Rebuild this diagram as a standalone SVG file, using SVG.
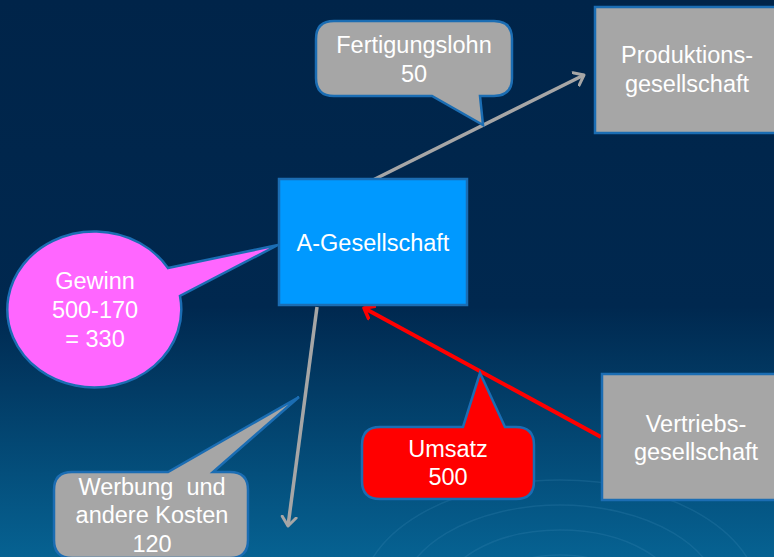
<svg xmlns="http://www.w3.org/2000/svg" width="774" height="557" viewBox="0 0 774 557">
<defs>
<linearGradient id="bg" x1="0" y1="0" x2="0" y2="1">
<stop offset="0" stop-color="#002449"/>
<stop offset="0.55" stop-color="#00284f"/>
<stop offset="1" stop-color="#066292"/>
</linearGradient>
<marker id="ag" markerWidth="20" markerHeight="20" refX="10" refY="10" orient="auto" markerUnits="userSpaceOnUse" viewBox="0 0 20 20">
<polyline points="1,3 10,10 1,17" fill="none" stroke="#a6a6a6" stroke-width="3" stroke-linecap="round" stroke-linejoin="round"/>
</marker>
<marker id="ar" markerWidth="20" markerHeight="20" refX="10" refY="10" orient="auto" markerUnits="userSpaceOnUse" viewBox="0 0 20 20">
<polyline points="1,3 10,10 1,17" fill="none" stroke="#ff0000" stroke-width="3.5" stroke-linecap="round" stroke-linejoin="round"/>
</marker>
</defs>
<style>
text{font-family:"Liberation Sans",Arial,sans-serif;font-size:23.5px;fill:#ffffff;text-anchor:middle}
.box{stroke:#1b6db3;stroke-width:2.5}
.gray{fill:#a6a6a6}
.call{stroke:#1b6db3;stroke-width:2.5;stroke-linejoin:miter}
.ring{fill:none;stroke:#3a86b4;stroke-opacity:0.25;stroke-width:1.5}
</style>
<rect width="774" height="557" fill="url(#bg)"/>
<g id="rings">
<ellipse class="ring" cx="560" cy="600" rx="120" ry="70"/>
<ellipse class="ring" cx="560" cy="600" rx="160" ry="95"/>
<ellipse class="ring" cx="560" cy="600" rx="200" ry="120"/>
<ellipse class="ring" cx="560" cy="600" rx="80" ry="45"/>
</g>
<g id="connectors">
<line x1="373" y1="180" x2="584" y2="75" stroke="#a6a6a6" stroke-width="3.5" marker-end="url(#ag)"/>
<line x1="317" y1="307" x2="288" y2="526" stroke="#a6a6a6" stroke-width="3.5" marker-end="url(#ag)"/>
<line x1="601" y1="437" x2="364" y2="308" stroke="#ff0000" stroke-width="4" marker-end="url(#ar)"/>
</g>
<g id="produktion">
<rect class="box gray" x="595" y="7" width="185" height="126"/>
<text x="687" y="63">Produktions-</text>
<text x="687" y="92">gesellschaft</text>
</g>
<g id="a-gesellschaft">
<rect class="box" x="279" y="179" width="188" height="126" fill="#0099ff"/>
<text x="373" y="251">A-Gesellschaft</text>
</g>
<g id="vertrieb">
<rect class="box gray" x="602" y="374" width="180" height="126"/>
<text x="696" y="432">Vertriebs-</text>
<text x="696" y="460">gesellschaft</text>
</g>
<g id="fertigungslohn">
<path class="call gray" d="M334,21 H494 Q512,21 512,39 V78 Q512,96 494,96 H480 L483,125 L432,96 H334 Q316,96 316,78 V39 Q316,21 334,21 Z"/>
<text x="414" y="53">Fertigungslohn</text>
<text x="414" y="82">50</text>
</g>
<g id="gewinn">
<path class="call" fill="#ff66ff" d="M168,268 L278,245 L180,296 A87,78 0 1 1 168,268 Z"/>
<text x="95" y="289">Gewinn</text>
<text x="95" y="318">500-170</text>
<text x="95" y="347">= 330</text>
</g>
<g id="werbung">
<path class="call gray" d="M72,472 H168 L299,397 L213,472 H230 Q248,472 248,490 V540 Q248,558 230,558 H72 Q54,558 54,540 V490 Q54,472 72,472 Z"/>
<text x="152" y="495" style="white-space:pre">Werbung  und</text>
<text x="152" y="523">andere Kosten</text>
<text x="152" y="552">120</text>
</g>
<g id="umsatz">
<path class="call" fill="#ff0000" d="M380,427 H463 L480,373 L505,427 H516 Q534,427 534,445 V481 Q534,499 516,499 H380 Q362,499 362,481 V445 Q362,427 380,427 Z"/>
<text x="448" y="457">Umsatz</text>
<text x="448" y="485">500</text>
</g>
</svg>
